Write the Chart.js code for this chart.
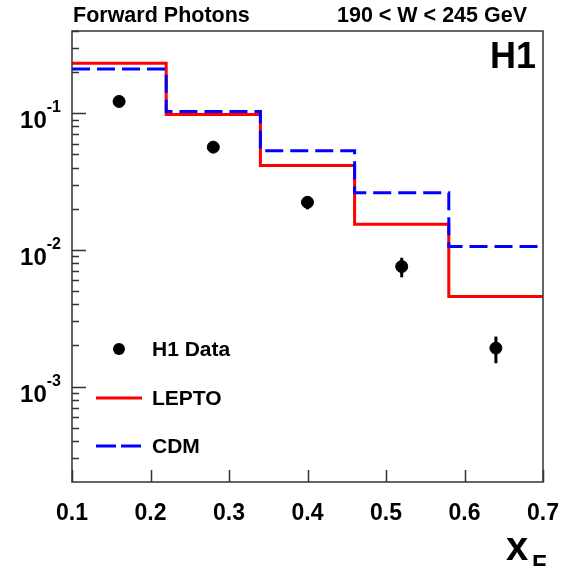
<!DOCTYPE html>
<html>
<head>
<meta charset="utf-8">
<script src="https://cdn.jsdelivr.net/npm/chart.js@4/dist/chart.umd.min.js"></script>
<style>
  body { margin: 0; background: #fff; }
  canvas { display: block; }
</style>
</head>
<body>
<canvas id="chart" width="569" height="566"></canvas>
<script>
// bin edges in x_F and the histogram contents
const binEdges = [0.1, 0.22, 0.34, 0.46, 0.58, 0.7]
const lepto = [0.232, 0.098, 0.0415, 0.0154, 0.00456]
const cdm = [0.211, 0.103, 0.0532, 0.0262, 0.0106]

// H1 data points, with error bar ends
const dataX = [0.16, 0.28, 0.40, 0.52, 0.64]
const dataY = [0.122, 0.0565, 0.0223, 0.00755, 0.00191]
const errLow = [0.117, 0.0540, 0.0198, 0.0063, 0.00148]
const errHigh = [0.127, 0.0590, 0.0245, 0.00875, 0.00232]

const xTicks = [0.1, 0.2, 0.3, 0.4, 0.5, 0.6, 0.7]
const yMajor = [1e-3, 1e-2, 1e-1]
const yLabels = ['-3', '-2', '-1']

const FONT = '"Liberation Sans", Arial, sans-serif'

// step points: every edge carries the value of the bin that ends there
let steps = (vals) => binEdges.map((e, i) => {
  return { x: e, y: vals[Math.max(i - 1, 0)] }
})

const decorations = {
  id: 'decorations',
  afterDatasetsDraw(chart) {
    const ctx = chart.ctx
    const xs = chart.scales.x
    const ys = chart.scales.y

    // error bars
    ctx.save()
    ctx.strokeStyle = '#000'
    ctx.lineWidth = 3
    dataX.forEach((x, i) => {
      let px = xs.getPixelForValue(x)
      ctx.beginPath()
      ctx.moveTo(px, ys.getPixelForValue(errLow[i]))
      ctx.lineTo(px, ys.getPixelForValue(errHigh[i]))
      ctx.stroke()
    })
    ctx.restore()
  },
  afterDraw(chart) {
    const ctx = chart.ctx
    const a = chart.chartArea
    const xs = chart.scales.x
    const ys = chart.scales.y

    ctx.save()
    // frame
    ctx.strokeStyle = '#333'
    ctx.lineWidth = 1.5
    ctx.strokeRect(a.left, a.top, a.right - a.left, a.bottom - a.top)

    // y ticks, inside the frame
    ctx.beginPath()
    for (let e = -4; e <= 0; e++) {
      for (let k = 1; k <= 9; k++) {
        let v = k * Math.pow(10, e)
        if (v <= ys.min || v > ys.max) continue
        let py = Math.round(ys.getPixelForValue(v)) + 0.5
        let len = k === 1 ? 14 : 7
        ctx.moveTo(a.left, py)
        ctx.lineTo(a.left + len, py)
      }
    }
    // x ticks
    for (let t of xTicks) {
      let px = Math.round(xs.getPixelForValue(t)) + 0.5
      ctx.moveTo(px, a.bottom)
      ctx.lineTo(px, a.bottom - 12)
    }
    ctx.stroke()

    ctx.fillStyle = '#000'
    // x tick labels
    ctx.font = 'bold 23px ' + FONT
    ctx.textAlign = 'center'
    ctx.textBaseline = 'middle'
    for (let t of xTicks) {
      ctx.fillText(t.toFixed(1), xs.getPixelForValue(t), 514)
    }

    // y tick labels 10^n
    yMajor.forEach((v, i) => {
      let py = ys.getPixelForValue(v)
      ctx.textAlign = 'right'
      ctx.textBaseline = 'alphabetic'
      ctx.font = 'bold 16px ' + FONT
      let supW = ctx.measureText(yLabels[i]).width
      ctx.fillText(yLabels[i], 61, py - 1)
      ctx.font = 'bold 24px ' + FONT
      ctx.fillText('10', 61 - supW, py + 15)
    })

    // axis title x_F
    ctx.textAlign = 'left'
    ctx.font = 'bold 40px ' + FONT
    ctx.fillText('x', 506, 560)
    ctx.font = 'bold 24px ' + FONT
    ctx.fillText('F', 532, 572)

    // header texts
    ctx.font = 'bold 21.5px ' + FONT
    ctx.textAlign = 'left'
    ctx.fillText('Forward Photons', 73, 22)
    ctx.textAlign = 'right'
    ctx.fillText('190 < W < 245 GeV', 527, 22)

    ctx.font = 'bold 36px ' + FONT
    ctx.fillText('H1', 536, 68)

    // legend
    ctx.textAlign = 'left'
    ctx.textBaseline = 'middle'
    ctx.font = 'bold 21px ' + FONT
    ctx.beginPath()
    ctx.arc(119, 349, 6, 0, Math.PI * 2)
    ctx.fill()
    ctx.fillText('H1 Data', 152, 350)

    ctx.lineWidth = 3
    ctx.strokeStyle = '#ff0000'
    ctx.beginPath()
    ctx.moveTo(96, 398)
    ctx.lineTo(142, 398)
    ctx.stroke()
    ctx.fillText('LEPTO', 152, 399)

    ctx.strokeStyle = '#0000ff'
    ctx.setLineDash([20, 5])
    ctx.beginPath()
    ctx.moveTo(96, 446)
    ctx.lineTo(142, 446)
    ctx.stroke()
    ctx.setLineDash([])
    ctx.fillText('CDM', 152, 447)
    ctx.restore()
  }
}

new Chart(document.getElementById('chart').getContext('2d'), {
  type: 'scatter',
  data: {
    datasets: [
      {
        label: 'H1 Data',
        data: dataX.map((x, i) => ({ x: x, y: dataY[i] })),
        backgroundColor: '#000',
        borderColor: '#000',
        pointRadius: 6,
        order: 0
      },
      {
        label: 'CDM',
        data: steps(cdm),
        showLine: true,
        stepped: 'after',
        borderColor: '#0000ff',
        borderWidth: 3,
        borderDash: [18, 7],
        pointRadius: 0,
        order: 1
      },
      {
        label: 'LEPTO',
        data: steps(lepto),
        showLine: true,
        stepped: 'after',
        borderColor: '#ff0000',
        borderWidth: 3,
        pointRadius: 0,
        order: 2
      }
    ]
  },
  options: {
    responsive: false,
    animation: false,
    layout: { padding: { left: 72, right: 26, top: 31, bottom: 84 } },
    scales: {
      x: { type: 'linear', min: 0.1, max: 0.7, display: false },
      y: { type: 'logarithmic', min: 2e-4, max: 0.4, display: false }
    },
    plugins: {
      legend: { display: false },
      tooltip: { enabled: false }
    }
  },
  plugins: [decorations]
})
</script>
</body>
</html>
